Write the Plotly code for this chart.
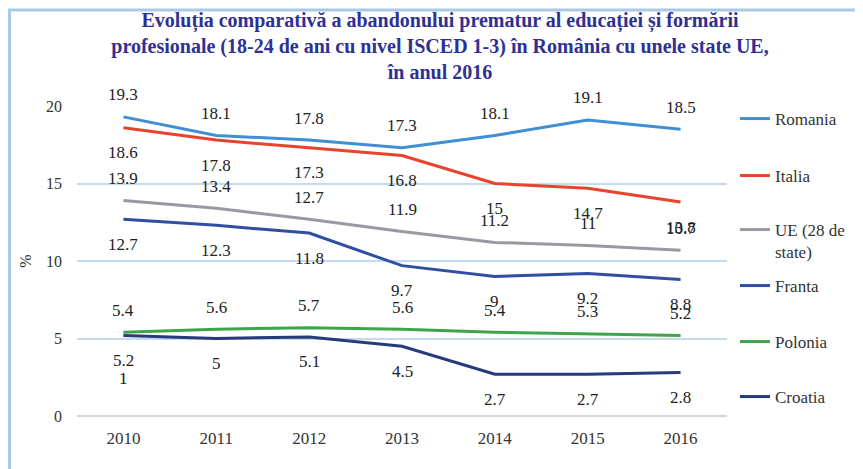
import plotly.graph_objects as go

# data
years = [2010, 2011, 2012, 2013, 2014, 2015, 2016]
romania = [19.3, 18.1, 17.8, 17.3, 18.1, 19.1, 18.5]
italia = [18.6, 17.8, 17.3, 16.8, 15, 14.7, 13.8]
ue28 = [13.9, 13.4, 12.7, 11.9, 11.2, 11, 10.7]
franta = [12.7, 12.3, 11.8, 9.7, 9, 9.2, 8.8]
polonia = [5.4, 5.6, 5.7, 5.6, 5.4, 5.3, 5.2]
croatia = [5.2, 5, 5.1, 4.5, 2.7, 2.7, 2.8]

series = [
    ("Romania", romania, "#3f8fd2", "above"),
    ("Italia", italia, "#e8432d", "below"),
    ("UE (28 de<br>state)", ue28, "#9c98a2", "above"),
    ("Franta", franta, "#2f4fa3", "below"),
    ("Polonia", polonia, "#3da64a", "above"),
    ("Croatia", croatia, "#253b7c", "below"),
]

# the page puts the figure 8px in from the top-left corner
legend_px = [111, 168, 233, 278, 334, 389]

W, H = 863, 469
L, R, T, B = 69, 144, 98, 61
pw, ph = W - L - R, H - T - B

serif = "Liberation Serif"
fig = go.Figure()
annotations = []
legends = {}

for i, (name, vals, color, pos) in enumerate(series):
    lg = "legend" if i == 0 else f"legend{i + 1}"
    fig.add_trace(go.Scatter(
        x=years, y=vals, name=name, mode="lines",
        line=dict(color=color, width=3),
        legend=lg, showlegend=True, hoverinfo="x+y+name",
    ))
    for x, v in zip(years, vals):
        annotations.append(dict(
            x=x, y=v, xref="x", yref="y", text=f"{v:g}", showarrow=False,
            yshift=22 if pos == "above" else -25,
            font=dict(family=serif, size=17, color="#222222"),
        ))
    legends[lg] = dict(
        x=(727 - L) / pw, xanchor="left",
        y=(H - B - legend_px[i]) / ph, yanchor="middle",
        valign="top", bgcolor="rgba(0,0,0,0)",
        font=dict(family=serif, size=17, color="#333333"),
    )

# stray label visible under Croatia 2010
annotations.append(dict(
    x=years[0], y=croatia[0], xref="x", yref="y", text="1", showarrow=False,
    yshift=-43, font=dict(family=serif, size=17, color="#111111"),
))

fig.update_layout(
    width=W, height=H, showlegend=True,
    margin=dict(l=L, r=R, t=T, b=B),
    paper_bgcolor="white", plot_bgcolor="white",
    title=dict(
        text="Evoluția comparativă a abandonului prematur al educației și formării<br>"
             "profesionale (18-24 de ani cu nivel ISCED 1-3) în România cu unele state UE,<br>"
             "în anul 2016",
        x=432 / W, xanchor="center", y=1 - 19 / H, yanchor="top",
        font=dict(family=serif, size=20, color="#2e3192", weight="bold"),
    ),
    xaxis=dict(
        range=[2009.5, 2016.5], tickvals=years, showgrid=False,
        showline=False, zeroline=False, ticks="", ticklabelstandoff=10,
        tickfont=dict(family=serif, size=17, color="#333333"),
    ),
    yaxis=dict(
        range=[0, 20], tickvals=[0, 5, 10, 15, 20],
        gridcolor="#c6daee", gridwidth=1.5,
        zeroline=True, zerolinecolor="#d6d6d6", zerolinewidth=2,
        showline=False, ticks="", ticklabelstandoff=14,
        tickfont=dict(family=serif, size=16, color="#333333"),
        title=dict(text="%", standoff=10,
                   font=dict(family=serif, size=16, color="#333333")),
    ),
    annotations=annotations,
    shapes=[dict(
        type="rect", xref="paper", yref="paper",
        x0=(1.5 - L) / pw, x1=(W + 20 - L) / pw,
        y0=(H - B - (H + 20)) / ph, y1=(H - B - 2) / ph,
        line=dict(color="#a9c9e8", width=3), layer="below",
    )],
    **legends,
)

fig.write_html("out.html")
